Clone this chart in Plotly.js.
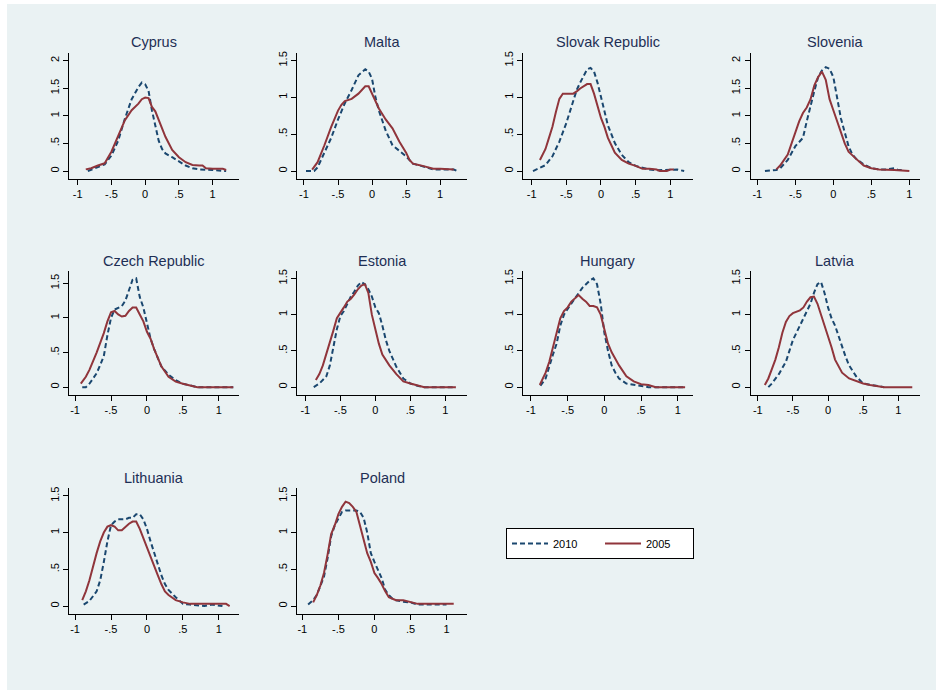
<!DOCTYPE html>
<html>
<head>
<meta charset="utf-8">
<script src="https://cdn.plot.ly/plotly-3.0.1.min.js"></script>
<style>html,body{margin:0;padding:0;background:#fff;}#chart{width:936px;height:690px;}</style>
</head>
<body>
<div id="chart"></div>
<script>
// ---- data ----
var countries = ["Cyprus","Malta","Slovak Republic","Slovenia","Czech Republic","Estonia","Hungary","Latvia","Lithuania","Poland"];
var seriesNames = ["2010","2005"];
var xTickVals = [-1,-0.5,0,0.5,1];
var xTickText = ["-1","-.5","0",".5","1"];
var yTickVals = [0,0.5,1,1.5,2];
var yTickText = ["0",".5","1","1.5","2"];
var yTickTop = [2,1.5,1.5,2,1.5,1.5,1.5,1.5,1.5,1.5];

// [x, density] pairs
var cyprus2010 = [[-0.85,0],[-0.7,0.08],[-0.6,0.12],[-0.5,0.28],[-0.4,0.55],[-0.3,0.95],[-0.2,1.3],[-0.1,1.52],[-0.05,1.6],[0,1.57],[0.05,1.45],[0.1,1.1],[0.15,0.8],[0.2,0.55],[0.25,0.4],[0.3,0.32],[0.4,0.25],[0.5,0.17],[0.6,0.1],[0.7,0.05],[0.8,0.03],[1.0,0.02],[1.2,0.0]];
var cyprus2005 = [[-0.88,0.03],[-0.8,0.05],[-0.7,0.1],[-0.6,0.14],[-0.5,0.35],[-0.4,0.62],[-0.3,0.92],[-0.2,1.1],[-0.1,1.22],[-0.05,1.3],[0,1.33],[0.05,1.32],[0.1,1.16],[0.15,1.08],[0.2,0.92],[0.3,0.62],[0.4,0.38],[0.5,0.25],[0.6,0.16],[0.7,0.11],[0.8,0.1],[0.85,0.1],[0.9,0.05],[1.0,0.04],[1.15,0.04],[1.2,0.02]];
var malta2010 = [[-0.97,0],[-0.85,0],[-0.8,0.05],[-0.7,0.25],[-0.6,0.45],[-0.5,0.7],[-0.4,0.92],[-0.3,1.1],[-0.2,1.3],[-0.1,1.38],[-0.05,1.35],[0,1.25],[0.05,1.0],[0.1,0.82],[0.2,0.55],[0.3,0.35],[0.4,0.28],[0.5,0.2],[0.6,0.1],[0.7,0.08],[0.8,0.05],[0.9,0.02],[1.0,0.02],[1.2,0.02],[1.25,0]];
var malta2005 = [[-0.88,0.02],[-0.8,0.12],[-0.7,0.35],[-0.6,0.6],[-0.5,0.82],[-0.45,0.9],[-0.4,0.95],[-0.3,0.98],[-0.2,1.05],[-0.15,1.1],[-0.1,1.15],[-0.05,1.15],[0,1.05],[0.05,0.95],[0.1,0.85],[0.2,0.7],[0.3,0.58],[0.4,0.4],[0.5,0.25],[0.55,0.15],[0.6,0.1],[0.7,0.08],[0.8,0.05],[0.9,0.03],[1.0,0.03],[1.1,0.03],[1.2,0.02]];
var slovak2010 = [[-0.98,0],[-0.85,0.05],[-0.8,0.08],[-0.7,0.2],[-0.65,0.3],[-0.6,0.4],[-0.5,0.65],[-0.4,0.95],[-0.35,1.1],[-0.3,1.2],[-0.25,1.3],[-0.2,1.38],[-0.15,1.4],[-0.1,1.35],[-0.05,1.2],[0,1.0],[0.05,0.8],[0.1,0.62],[0.15,0.5],[0.2,0.38],[0.3,0.22],[0.4,0.12],[0.5,0.07],[0.6,0.04],[0.7,0.02],[0.8,0.01],[1.0,0.01],[1.1,0.02],[1.2,0.0]];
var slovak2005 = [[-0.88,0.15],[-0.8,0.3],[-0.75,0.45],[-0.7,0.6],[-0.65,0.8],[-0.6,0.98],[-0.55,1.05],[-0.5,1.05],[-0.4,1.05],[-0.35,1.08],[-0.3,1.12],[-0.2,1.18],[-0.15,1.18],[-0.1,1.05],[-0.05,0.88],[0,0.72],[0.05,0.6],[0.1,0.45],[0.15,0.35],[0.2,0.25],[0.3,0.15],[0.4,0.1],[0.5,0.07],[0.6,0.03],[0.7,0.03],[0.8,0.02],[0.85,0.0],[0.95,0.0],[1.0,0.02],[1.05,0.02]];
var slovenia2010 = [[-0.9,0],[-0.75,0.02],[-0.7,0.05],[-0.6,0.2],[-0.5,0.45],[-0.4,0.6],[-0.35,0.9],[-0.3,1.2],[-0.25,1.45],[-0.2,1.7],[-0.15,1.82],[-0.1,1.88],[-0.05,1.85],[0,1.7],[0.05,1.35],[0.1,0.95],[0.15,0.7],[0.2,0.45],[0.25,0.3],[0.3,0.22],[0.4,0.12],[0.5,0.05],[0.6,0.03],[0.7,0.03],[0.8,0.05],[0.85,0.02],[0.9,0.02]];
var slovenia2005 = [[-0.75,0.03],[-0.7,0.1],[-0.6,0.3],[-0.55,0.5],[-0.5,0.72],[-0.45,0.9],[-0.4,1.05],[-0.35,1.15],[-0.3,1.3],[-0.25,1.55],[-0.2,1.7],[-0.15,1.8],[-0.1,1.65],[-0.05,1.3],[0,1.1],[0.05,0.9],[0.1,0.7],[0.15,0.5],[0.2,0.35],[0.25,0.28],[0.3,0.22],[0.4,0.1],[0.5,0.05],[0.6,0.03],[0.7,0.03],[0.8,0.02],[1.0,0.0]];
var czech2010 = [[-0.9,0],[-0.85,0],[-0.8,0.05],[-0.7,0.2],[-0.65,0.32],[-0.6,0.45],[-0.55,0.75],[-0.5,1.0],[-0.45,1.12],[-0.4,1.15],[-0.35,1.17],[-0.3,1.25],[-0.25,1.4],[-0.2,1.55],[-0.15,1.57],[-0.1,1.3],[-0.05,1.15],[0,0.9],[0.05,0.7],[0.1,0.55],[0.15,0.42],[0.2,0.3],[0.3,0.18],[0.4,0.1],[0.5,0.05],[0.6,0.02],[0.7,0.0],[0.8,0.0],[1.2,0.0]];
var czech2005 = [[-0.92,0.05],[-0.85,0.15],[-0.8,0.25],[-0.7,0.5],[-0.6,0.78],[-0.55,0.95],[-0.5,1.08],[-0.45,1.1],[-0.4,1.05],[-0.35,1.02],[-0.3,1.03],[-0.25,1.1],[-0.2,1.15],[-0.15,1.15],[-0.1,1.05],[-0.05,0.95],[0,0.8],[0.05,0.7],[0.1,0.55],[0.15,0.42],[0.2,0.3],[0.3,0.15],[0.4,0.08],[0.5,0.05],[0.6,0.03],[0.7,0.0],[1.2,0.0]];
var estonia2010 = [[-0.88,0],[-0.8,0.05],[-0.7,0.15],[-0.65,0.3],[-0.6,0.55],[-0.55,0.8],[-0.5,0.98],[-0.45,1.05],[-0.4,1.15],[-0.35,1.25],[-0.3,1.32],[-0.25,1.4],[-0.2,1.45],[-0.15,1.42],[-0.1,1.35],[-0.05,1.25],[0,1.1],[0.05,1.02],[0.1,0.85],[0.15,0.65],[0.2,0.5],[0.25,0.38],[0.3,0.28],[0.4,0.12],[0.5,0.05],[0.6,0.02],[0.7,0.0],[1.15,0.0]];
var estonia2005 = [[-0.85,0.1],[-0.8,0.18],[-0.75,0.3],[-0.7,0.45],[-0.65,0.62],[-0.6,0.78],[-0.55,0.95],[-0.5,1.02],[-0.45,1.1],[-0.4,1.18],[-0.35,1.22],[-0.3,1.28],[-0.25,1.35],[-0.2,1.4],[-0.15,1.42],[-0.1,1.3],[-0.05,1.0],[0,0.8],[0.05,0.6],[0.1,0.45],[0.15,0.38],[0.2,0.3],[0.3,0.18],[0.4,0.08],[0.5,0.05],[0.6,0.03],[0.7,0.0],[1.15,0.0]];
var hungary2010 = [[-0.87,0.02],[-0.8,0.12],[-0.7,0.45],[-0.65,0.6],[-0.6,0.85],[-0.55,1.0],[-0.5,1.08],[-0.45,1.15],[-0.4,1.22],[-0.35,1.3],[-0.3,1.37],[-0.25,1.42],[-0.2,1.47],[-0.15,1.5],[-0.1,1.42],[-0.05,1.15],[0,0.75],[0.05,0.5],[0.1,0.3],[0.15,0.2],[0.2,0.12],[0.3,0.05],[0.4,0.03],[0.5,0.02],[0.6,0.0],[1.1,0.0]];
var hungary2005 = [[-0.88,0.03],[-0.8,0.2],[-0.75,0.35],[-0.7,0.55],[-0.65,0.75],[-0.6,0.95],[-0.55,1.05],[-0.5,1.1],[-0.45,1.18],[-0.4,1.22],[-0.35,1.27],[-0.3,1.22],[-0.25,1.18],[-0.2,1.12],[-0.15,1.12],[-0.1,1.1],[-0.05,1.0],[0,0.8],[0.05,0.6],[0.1,0.48],[0.15,0.38],[0.2,0.3],[0.3,0.15],[0.4,0.08],[0.5,0.04],[0.6,0.03],[0.7,0.0],[1.1,0.0]];
var latvia2010 = [[-0.85,0],[-0.8,0.05],[-0.7,0.18],[-0.6,0.35],[-0.55,0.5],[-0.5,0.65],[-0.45,0.75],[-0.4,0.85],[-0.35,0.95],[-0.3,1.05],[-0.25,1.15],[-0.2,1.3],[-0.15,1.42],[-0.1,1.45],[-0.05,1.3],[0,1.1],[0.05,0.95],[0.1,0.85],[0.15,0.7],[0.2,0.55],[0.25,0.42],[0.3,0.3],[0.4,0.15],[0.5,0.05],[0.6,0.03],[0.7,0.02],[0.8,0.0]];
var latvia2005 = [[-0.9,0.03],[-0.85,0.12],[-0.8,0.25],[-0.75,0.38],[-0.7,0.55],[-0.65,0.75],[-0.6,0.9],[-0.55,0.98],[-0.5,1.02],[-0.45,1.04],[-0.4,1.06],[-0.35,1.1],[-0.3,1.18],[-0.25,1.24],[-0.2,1.25],[-0.15,1.15],[-0.1,1.0],[-0.05,0.88],[0,0.72],[0.05,0.55],[0.1,0.38],[0.15,0.28],[0.2,0.2],[0.3,0.12],[0.4,0.08],[0.5,0.05],[0.6,0.03],[0.7,0.02],[0.8,0.0],[1.2,0.0]];
var lithuania2010 = [[-0.88,0.02],[-0.8,0.07],[-0.7,0.2],[-0.65,0.35],[-0.6,0.6],[-0.55,0.88],[-0.5,1.1],[-0.45,1.15],[-0.4,1.18],[-0.3,1.18],[-0.25,1.2],[-0.2,1.2],[-0.15,1.25],[-0.1,1.25],[-0.05,1.18],[0,1.05],[0.05,0.88],[0.1,0.72],[0.15,0.55],[0.2,0.42],[0.25,0.3],[0.3,0.22],[0.4,0.12],[0.5,0.03],[0.6,0.02],[0.8,0.0],[0.9,0.02],[1.0,0.01],[1.05,0.0]];
var lithuania2005 = [[-0.9,0.08],[-0.85,0.2],[-0.8,0.35],[-0.75,0.55],[-0.7,0.72],[-0.65,0.88],[-0.6,1.0],[-0.55,1.08],[-0.5,1.1],[-0.45,1.08],[-0.4,1.03],[-0.35,1.03],[-0.3,1.08],[-0.25,1.12],[-0.2,1.15],[-0.15,1.15],[-0.1,1.05],[-0.05,0.92],[0,0.8],[0.05,0.68],[0.1,0.55],[0.15,0.42],[0.2,0.3],[0.25,0.2],[0.3,0.15],[0.4,0.08],[0.5,0.05],[0.6,0.03],[0.8,0.03],[1.0,0.03],[1.1,0.03],[1.15,0.0]];
var poland2010 = [[-0.92,0.02],[-0.85,0.08],[-0.8,0.15],[-0.7,0.4],[-0.65,0.65],[-0.6,0.95],[-0.55,1.1],[-0.5,1.2],[-0.45,1.28],[-0.4,1.3],[-0.35,1.3],[-0.3,1.3],[-0.25,1.3],[-0.2,1.28],[-0.15,1.2],[-0.1,1.0],[-0.05,0.72],[0,0.6],[0.05,0.5],[0.1,0.38],[0.15,0.22],[0.2,0.15],[0.25,0.1],[0.3,0.08],[0.4,0.06],[0.5,0.05],[0.6,0.02],[0.7,0.02],[0.8,0.01],[1.0,0.02]];
var poland2005 = [[-0.85,0.05],[-0.8,0.15],[-0.75,0.28],[-0.7,0.45],[-0.65,0.7],[-0.6,0.98],[-0.55,1.1],[-0.5,1.25],[-0.45,1.35],[-0.4,1.42],[-0.35,1.4],[-0.3,1.35],[-0.25,1.28],[-0.2,1.1],[-0.15,0.9],[-0.1,0.72],[-0.05,0.6],[0,0.45],[0.05,0.38],[0.1,0.3],[0.15,0.2],[0.2,0.12],[0.25,0.1],[0.3,0.08],[0.4,0.08],[0.5,0.05],[0.6,0.03],[0.7,0.03],[0.8,0.03],[1.0,0.03],[1.1,0.03]];

var data2010 = [cyprus2010,malta2010,slovak2010,slovenia2010,czech2010,estonia2010,hungary2010,latvia2010,lithuania2010,poland2010];
var data2005 = [cyprus2005,malta2005,slovak2005,slovenia2005,czech2005,estonia2005,hungary2005,latvia2005,lithuania2005,poland2005];

// ---- layout geometry (pixels) ----
var W = 936, H = 690;
var colL = [69.3, 297.3, 523.3, 750.5];
var colR = [239, 466.7, 693.2, 920];
var rowT = [53, 271, 488.3];
var rowB = [179, 395, 614];
var titleY = [42, 261, 478];
var xRanges = [[-1.124,1.39],[-1.098,1.39],[-1.12,1.33],[-1.09,1.14],[-1.08,1.28],[-1.115,1.305],[-1.104,1.21],[-1.104,1.31],[-1.08,1.28],[-1.07,1.28]];

var c2010 = '#1a476f', c2005 = '#90353b';
var traces = [], layout = {
  width: W, height: H,
  margin: {l:0,r:0,t:0,b:0},
  paper_bgcolor: '#ffffff',
  plot_bgcolor: '#ffffff',
  font: {family: 'Liberation Sans, Arial, sans-serif', color: '#000'},
  showlegend: true,
  legend: {
    orientation: 'h', x: 506/W, y: 1-528/H, xanchor: 'left', yanchor: 'top',
    bgcolor: '#ffffff', bordercolor: '#000', borderwidth: 1,
    font: {size: 11, color: '#000'}, itemwidth: 36, entrywidth: 42, traceorder: 'normal'
  },
  shapes: [{type:'rect', xref:'paper', yref:'paper', x0: 7/W, x1: 1, y0: 0, y1: 1-4/H, fillcolor:'#eaf2f3', line:{width:0}, layer:'below'}],
  annotations: []
};

(function build() {
  for (var i = 0; i < countries.length; i++) {
    var r = Math.floor(i/4), c = i % 4;
    var sfx = i === 0 ? '' : String(i+1);
    var xa = 'x' + sfx, ya = 'y' + sfx;
    var d10 = data2010[i], d05 = data2005[i];
    traces.push({x: d10.map(function(p){return p[0];}), y: d10.map(function(p){return p[1];}),
      xaxis: xa, yaxis: ya, type:'scatter', mode:'lines', name: seriesNames[0],
      line: {color: c2010, width: 2, dash: '5px,3px'}, showlegend: i === 0, hoverinfo:'skip'});
    traces.push({x: d05.map(function(p){return p[0];}), y: d05.map(function(p){return p[1];}),
      xaxis: xa, yaxis: ya, type:'scatter', mode:'lines', name: seriesNames[1],
      line: {color: c2005, width: 2}, showlegend: i === 0, hoverinfo:'skip'});
    var dmax = 0;
    d10.concat(d05).forEach(function(p){ if (p[1] > dmax) dmax = p[1]; });
    var yTop = Math.max(yTickTop[i], dmax);
    var nT = yTickVals.filter(function(v){return v <= yTickTop[i] + 1e-9;}).length;
    layout['xaxis' + sfx] = {
      domain: [colL[c]/W, colR[c]/W], anchor: ya, range: xRanges[i],
      tickmode:'array', tickvals: xTickVals, ticktext: xTickText,
      showline: true, linecolor:'#000', linewidth: 1, mirror: false,
      ticks:'outside', ticklen: 5, tickcolor:'#000', tickwidth: 1,
      showgrid: false, zeroline: false, tickfont: {size: 11, color:'#000'}, fixedrange: true
    };
    layout['yaxis' + sfx] = {
      domain: [1-rowB[r]/H, 1-rowT[r]/H], anchor: xa, range: [-0.072*yTop, 1.068*yTop],
      tickmode:'array', tickvals: yTickVals.slice(0,nT), ticktext: yTickText.slice(0,nT), tickangle: -90,
      showline: true, linecolor:'#000', linewidth: 1,
      ticks:'outside', ticklen: 5, tickcolor:'#000', tickwidth: 1,
      showgrid: true, gridcolor:'#eaf2f3', gridwidth: 1.5, zeroline: false,
      tickfont: {size: 11, color:'#000'}, fixedrange: true
    };
    layout.annotations.push({
      text: countries[i], xref:'paper', yref:'paper',
      x: (colL[c]+colR[c])/2/W, y: 1-titleY[r]/H, xanchor:'center', yanchor:'middle',
      showarrow: false, font: {size: 14.5, color:'#1e2f55'}
    });
  }
})();

Plotly.newPlot('chart', traces, layout, {staticPlot: true, displayModeBar: false});
</script>
</body>
</html>
